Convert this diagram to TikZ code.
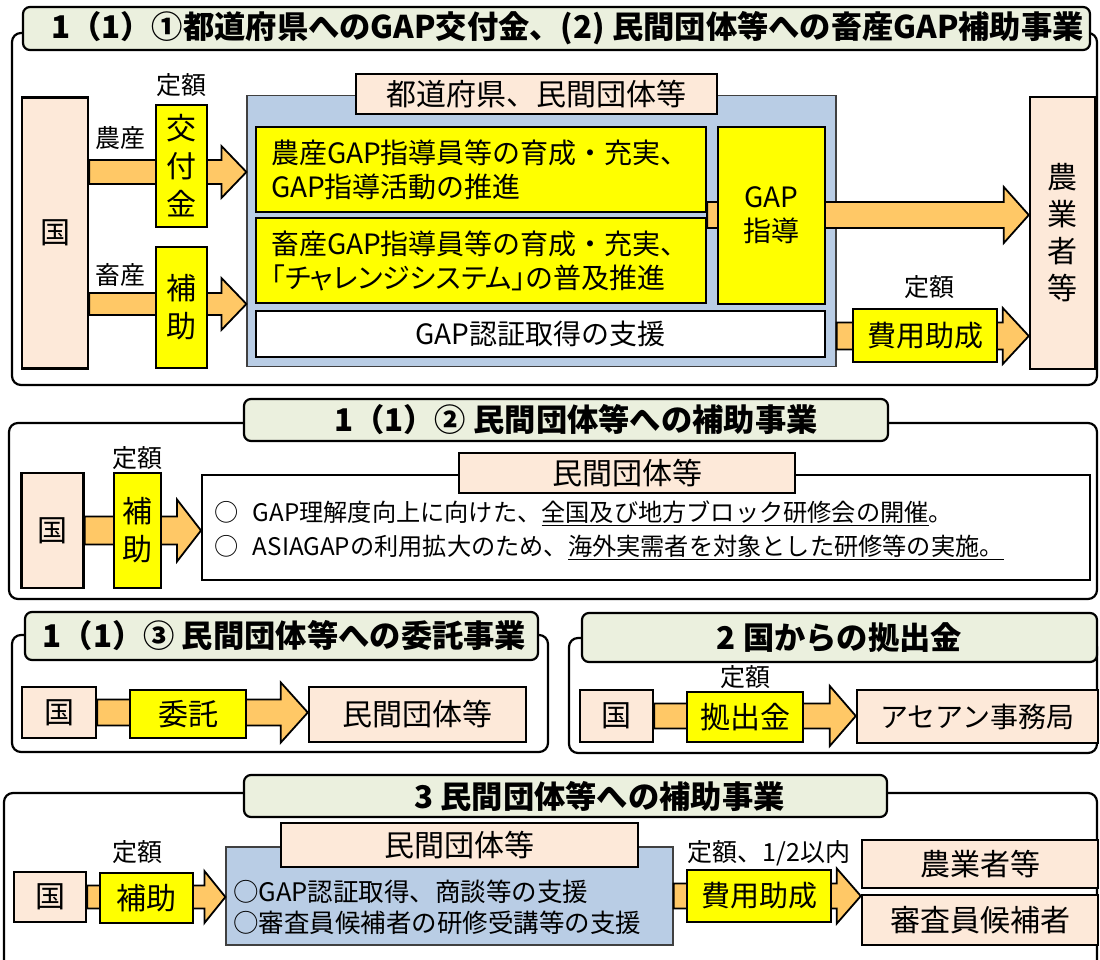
\documentclass[tikz,border=0pt]{standalone}
\usepackage{fontspec}
\setmainfont{Noto Sans CJK JP}
\usetikzlibrary{positioning, calc}
\definecolor{gappeach}{HTML}{FDE9D9}
\definecolor{gapblue}{HTML}{B9CDE5}
\definecolor{gapyellow}{HTML}{FFFF00}
\definecolor{gaporange}{HTML}{FFC866}
\definecolor{gaptab}{HTML}{EBF0DE}

% broad arrow: start anchor, tip anchor, lane, shaft half, head half, head length
\newcommand{\fatarrow}[6]{%
  \path (#1 |- #3) coordinate (fas) (#2 |- #3) coordinate (fat);
  \draw[broadarrow] ($(fas)+(0,#4)$) -- ($(fat)+(-#6,#4)$) -- ($(fat)+(-#6,#5)$) -- (fat)
    -- ($(fat)+(-#6,-#5)$) -- ($(fat)+(-#6,-#4)$) -- ($(fas)+(0,-#4)$) -- cycle;}
\newcommand{\narrow}[1]{{\addfontfeatures{RawFeature=+palt}#1}}

\begin{document}
\begin{tikzpicture}[
  x=1pt, y=-1pt,
  every node/.style={inner sep=0pt},
  secframe/.style={draw, line width=2.2pt, rounded corners=9pt},
  titletab/.style={draw, line width=2.2pt, rounded corners=7pt, fill=gaptab, font=\bfseries\fontsize{31.3}{36}\selectfont},
  peachbox/.style={draw, line width=2.4pt, fill=gappeach, font=\fontsize{30}{40}\selectfont, align=center},
  yellowbox/.style={draw, line width=2.2pt, fill=gapyellow, font=\fontsize{30}{38}\selectfont, align=center},
  bluebox/.style={draw=black!75, line width=1.2pt, fill=gapblue},
  whitebox/.style={draw, line width=2pt, fill=white},
  lbl/.style={font=\fontsize{25}{28}\selectfont},
  broadarrow/.style={draw, line width=1.8pt, fill=gaporange, line join=miter},
]
\useasboundingbox (0,0) rectangle (1100,959);

% Section 1: prefectures and private groups
\draw[secframe] (12,33) rectangle (1097,385);
\node[titletab, minimum width=1067pt, minimum height=43pt] (title1) at (556.5,28.5) {\hspace{22pt}1（1）①都道府県へのGAP交付金、(2) 民間団体等への畜産GAP補助事業};

\node[bluebox, minimum width=589pt, minimum height=271pt] (ken1) at (541.5,231) {};
\node[peachbox, minimum width=361pt, minimum height=40pt] (kentab) at (536.5,94) {都道府県、民間団体等};
\node[peachbox, minimum width=66pt, minimum height=271pt] (koku1) at (55,233) {国};
\node[peachbox, minimum width=65pt, minimum height=272pt, font=\fontsize{30}{37}\selectfont] (farmer1) at (1062.5,233) {農\\業\\者\\等};

\node[yellowbox, minimum width=450pt, minimum height=85pt, text width=420pt, align=left, font=\fontsize{28}{34}\selectfont] (noyel) at (481,169.5) {農産GAP指導員等の育成・充実、\\GAP指導活動の推進};
\node[yellowbox, minimum width=450pt, minimum height=85pt, text width=420pt, align=left, font=\fontsize{28}{34}\selectfont] (chikuyel) at (481,260.5) {畜産GAP指導員等の育成・充実、\\\narrow{「チャレンジシステム」の}普及推進};
\node[whitebox, minimum width=569pt, minimum height=46pt, font=\fontsize{28}{34}\selectfont] (cert1) at (540.5,334) {GAP認証取得の支援};

\coordinate (lane1) at (0,172);
\coordinate (lane2) at (0,304);
\coordinate (lane3) at (0,215);
\coordinate (lane4) at (0,336);
\fatarrow{koku1.east}{ken1.west}{lane1}{12}{26}{25}
\fatarrow{koku1.east}{ken1.west}{lane2}{11}{26}{25}
\fatarrow{noyel.east}{farmer1.west}{lane3}{13}{28}{25}
\fatarrow{ken1.east}{farmer1.west}{lane4}{13.5}{28}{26}

\node[yellowbox, minimum width=51pt, minimum height=122pt] (kofu) at (181.5,166) {交\\付\\金};
\node[yellowbox, minimum width=51pt, minimum height=121pt] (hojo1) at (181.5,307.5) {補\\助};
\node[yellowbox, minimum width=107pt, minimum height=177pt, font=\fontsize{28}{34}\selectfont] (gap) at (771.5,215.5) {GAP\\指導};
\node[yellowbox, minimum width=144pt, minimum height=53pt, font=\fontsize{29}{36}\selectfont] (hiyo1) at (925,335.5) {費用助成};

\node[lbl] (teigaku1) at (181,85) {定額};
\node[lbl] (nousan) at (120,138) {農産};
\node[lbl] (chikusan) at (120,275) {畜産};
\node[lbl] (teigaku2) at (929,287) {定額};

% Section 2: subsidy to private groups
\draw[secframe] (9,423) rectangle (1097,599);
\node[titletab, minimum width=644pt, minimum height=42pt] (title2) at (566,420) {\hspace{20pt}1（1）② 民間団体等への補助事業};
\node[whitebox, minimum width=888pt, minimum height=105pt] (box2) at (646,527.5) {};
\node[peachbox, minimum width=336pt, minimum height=40pt] (tab2) at (627,473) {民間団体等};
\node[peachbox, minimum width=62pt, minimum height=115pt] (koku2) at (52.5,530.5) {国};
\fatarrow{koku2.east}{box2.west}{koku2}{14}{31}{24}
\node[yellowbox, minimum width=47pt, minimum height=115pt] (hojo2) at (137.5,530.5) {補\\助};
\node[lbl] (teigaku3) at (137.5,458) {定額};
\node[anchor=west, align=left, font=\fontsize{24.2}{34}\selectfont] (list2) at (214,530) {○\hspace{0.6em}GAP理解度向上に向けた、\underline{全国及び地方ブロック研修会の開催}。\\○\hspace{0.6em}ASIAGAPの利用拡大のため、\underline{海外実需者を対象とした研修等の実施。}};

% Section 3: commission
\draw[secframe] (12,635) rectangle (548,752);
\node[titletab, minimum width=513pt, minimum height=48pt] (title3) at (281.5,636) {\hspace{6pt}1（1）③ 民間団体等への委託事業};
\node[peachbox, minimum width=74pt, minimum height=51pt] (koku3) at (59,712.5) {国};
\node[peachbox, minimum width=217pt, minimum height=55pt] (min3) at (417.5,714.5) {民間団体等};
\fatarrow{koku3.east}{min3.west}{koku3}{13}{30}{27}
\node[yellowbox, minimum width=116pt, minimum height=48pt] (itaku) at (188,714) {委託};

% Section 4: contribution
\draw[secframe] (569,638) rectangle (1097,753);
\node[titletab, minimum width=515pt, minimum height=49pt] (title4) at (839.5,637.5) {2 国からの拠出金};
\node[peachbox, minimum width=73pt, minimum height=52pt] (koku4) at (616.5,716) {国};
\node[peachbox, minimum width=241pt, minimum height=53pt, font=\fontsize{28}{34}\selectfont] (asean) at (977.5,716.5) {アセアン事務局};
\fatarrow{koku4.east}{asean.west}{koku4}{12.5}{30}{26}
\node[yellowbox, minimum width=116pt, minimum height=50pt] (kyo) at (745,717) {拠出金};
\node[lbl] (teigaku4) at (745,677) {定額};

% Section 5: subsidy, certification
\draw[secframe] (4,793) rectangle (1097,990);
\node[titletab, minimum width=643pt, minimum height=42pt] (title5) at (565.5,796) {\hspace{68pt}3 民間団体等への補助事業};
\node[bluebox, minimum width=447pt, minimum height=98pt] (blue5) at (449.5,896) {};
\node[peachbox, minimum width=357pt, minimum height=44pt] (tab5) at (459.5,845) {民間団体等};
\node[peachbox, minimum width=72pt, minimum height=50pt] (koku5) at (50,897) {国};
\node[peachbox, minimum width=236pt, minimum height=48pt] (farmer5) at (980,864) {農業者等};
\node[peachbox, minimum width=236pt, minimum height=50pt] (shinsa) at (980,920) {審査員候補者};
\fatarrow{koku5.east}{blue5.west}{koku5}{11.5}{26}{21}
\fatarrow{blue5.east}{farmer5.west}{blue5}{12.5}{27.5}{24}
\node[yellowbox, minimum width=93pt, minimum height=50pt] (hojo5) at (146.5,898) {補助};
\node[yellowbox, minimum width=144pt, minimum height=52pt, font=\fontsize{29}{36}\selectfont] (hiyo5) at (759,896) {費用助成};
\node[lbl] (teigaku5) at (137,852) {定額};
\node[lbl] (teigaku6) at (769,853) {定額、1/2以内};
\node[anchor=west, align=left, font=\fontsize{25.5}{31}\selectfont] (list5) at (233,907) {○GAP認証取得、商談等の支援\\○審査員候補者の研修受講等の支援};

\end{tikzpicture}
\end{document}
